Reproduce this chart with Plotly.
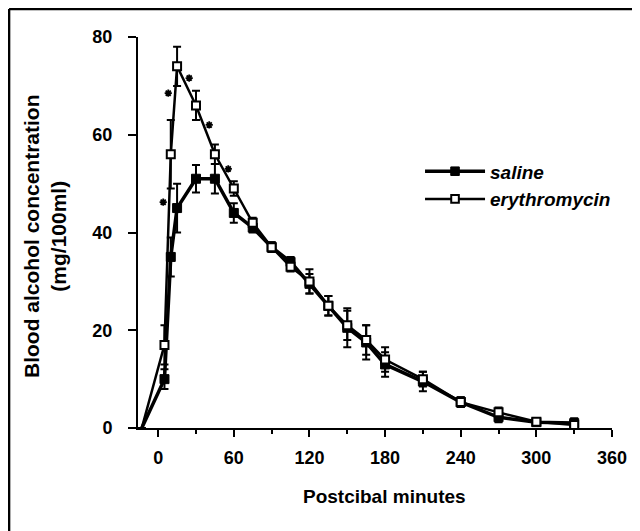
import plotly.graph_objects as go

# ---- data ----
times = [-13, 5, 10, 15, 30, 45, 60, 75, 90, 105, 120, 135, 150, 165, 180, 210, 240, 270, 300, 330]
saline = [0, 10, 35, 45, 51, 51, 44, 41, 37, 34, 29.5, 25, 20.5, 17.5, 13, 9.5, 5.3, 2.2, 1.2, 1.0]
saline_sem = [0, 2, 4, 5, 2.8, 3, 2, 1, 1, 1, 2, 2, 4, 3.5, 2.5, 2, 1, 1, 0.5, 1]
erythro = [0, 17, 56, 74, 66, 56, 49, 42, 37, 33, 30, 25, 21, 18, 14, 10, 5.3, 3.2, 1.3, 0.6]
erythro_sem = [0, 4, 7, 4, 3, 2, 1.5, 1, 1, 1, 2.5, 2, 3, 3, 2.5, 1.5, 1, 1, 0.5, 0.5]

# significance markers (erythromycin vs saline) and their offsets from the points
sig_times = [10, 15, 30, 45, 60]
star_dx = [-6, -7, -5.4, -4.5, -4.4]
star_dy = [-9.8, -5.5, 5.6, 6, 4]

x_ticks = [0, 60, 120, 180, 240, 300, 360]
y_ticks = [0, 20, 40, 60, 80]

FONT = "Liberation Sans, Arial, sans-serif"

# no marker at the starting (baseline) point
sal_sizes = [0 if t < 0 else 9 for t in times]
ery_sizes = [0 if t < 0 else 8 for t in times]

fig = go.Figure()
fig.add_trace(go.Scatter(
    x=times, y=saline, name="<b><i>saline</i></b>",
    mode="lines+markers",
    line=dict(color="black", width=3.5),
    marker=dict(symbol="square", size=sal_sizes, color="black", opacity=1,
                line=dict(color="black", width=1)),
    error_y=dict(type="data", array=saline_sem, color="black", thickness=2, width=4),
))
fig.add_trace(go.Scatter(
    x=times, y=erythro, name="<b><i>erythromycin</i></b>",
    mode="lines+markers",
    line=dict(color="black", width=2.5),
    marker=dict(symbol="square", size=ery_sizes, color="white", opacity=1,
                line=dict(color="black", width=2)),
    error_y=dict(type="data", array=erythro_sem, color="black", thickness=2, width=4),
))

ery_map = dict(zip(times, erythro))
fig.add_trace(go.Scatter(
    x=[t + dx for t, dx in zip(sig_times, star_dx)],
    y=[ery_map[t] + dy for t, dy in zip(sig_times, star_dy)],
    mode="markers", showlegend=False, hoverinfo="skip",
    marker=dict(symbol="asterisk-open", size=6, color="black", opacity=1,
                line=dict(color="black", width=1.8)),
))

fig.update_layout(
    width=640, height=531,
    margin=dict(l=130, r=36, t=29, b=111),
    paper_bgcolor="white", plot_bgcolor="white",
    font=dict(family=FONT, color="black"),
    showlegend=True,
    legend=dict(x=0.595, y=0.705, xanchor="left", yanchor="top", itemwidth=60,
                traceorder="normal",
                font=dict(family=FONT, size=19, color="black"),
                bgcolor="rgba(0,0,0,0)"),
    xaxis=dict(range=[-16, 360], tickvals=x_ticks, ticktext=[f"<b>{v}</b>" for v in x_ticks],
               showgrid=False, zeroline=False, showline=True, linecolor="black", linewidth=2,
               ticks="outside", ticklen=7, tickwidth=2, tickcolor="black", ticklabelstandoff=5,
               tickfont=dict(family=FONT, size=18, color="black"),
               minor=dict(tickvals=[30, 90, 150, 210, 270, 330], ticks="outside", ticklen=4, tickwidth=1.5, tickcolor="black")),
    yaxis=dict(range=[0, 80], tickvals=y_ticks, ticktext=[f"<b>{v}</b>" for v in y_ticks],
               showgrid=False, zeroline=False, showline=True, linecolor="black", linewidth=2,
               ticks="outside", ticklen=8, tickwidth=2, tickcolor="black", ticklabelstandoff=12,
               tickfont=dict(family=FONT, size=18, color="black")),
)

# axis titles
fig.add_annotation(text="<b>Postcibal minutes</b>", xref="paper", yref="paper", x=0.521, y=-0.176,
                   xanchor="center", yanchor="middle", showarrow=False,
                   font=dict(family=FONT, size=19, color="black"))
fig.add_annotation(text="<b>Blood alcohol concentration<br>(mg/100ml)</b>", xref="paper", yref="paper",
                   x=-0.195, y=0.49, xanchor="center", yanchor="middle", showarrow=False, textangle=-90,
                   font=dict(family=FONT, size=21, color="black"))

# figure frame (top and left edges)
fig.add_shape(type="line", xref="paper", yref="paper", x0=-0.272, x1=1.1, y0=1.0716, y1=1.0716,
              line=dict(color="black", width=2.5))
fig.add_shape(type="line", xref="paper", yref="paper", x0=-0.272, x1=-0.272, y0=1.0716, y1=-0.3,
              line=dict(color="black", width=2.5))

fig.write_html("out.html")
